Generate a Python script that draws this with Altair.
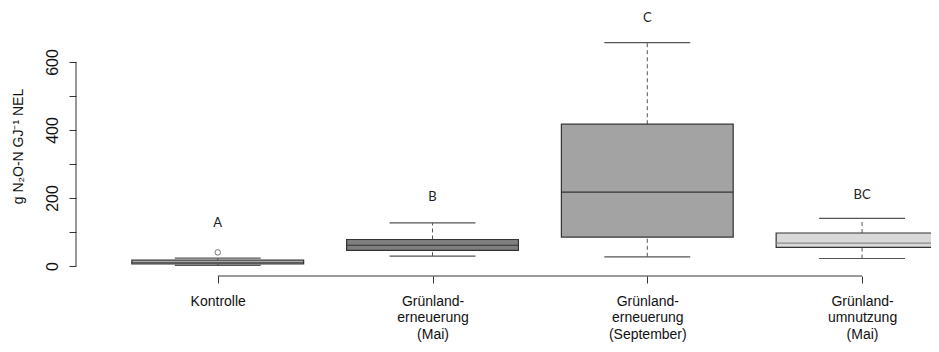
import altair as alt
import pandas as pd

# ---- data ----
categories = ["Kontrolle", "Grünland-|erneuerung|(Mai)",
              "Grünland-|erneuerung|(September)", "Grünland-|umnutzung|(Mai)"]
positions = [1, 2, 3, 4]
lower_whisker = [2, 29, 27, 22]
q1 = [6, 46, 85, 55]
median = [11, 61, 217, 67]
q3 = [17, 78, 417, 97]
upper_whisker = [23, 127, 657, 140]
fills = ["#d3d3d3", "#7f7f7f", "#a3a3a3", "#d9d9d9"]
median_colors = ["#333333", "#333333", "#333333", "#8a8a8a"]

outlier_pos = [1]
outlier_val = [40]

letters = ["A", "B", "C", "BC"]
letter_y = [126, 204, 728, 209]

y_ticks = [0, 100, 200, 300, 400, 500, 600]

df = pd.DataFrame({
    "pos": positions, "lw": lower_whisker, "q1": q1, "med": median,
    "q3": q3, "uw": upper_whisker, "fill": fills, "mcol": median_colors,
    "letter": letters, "ly": letter_y,
})
out_df = pd.DataFrame({"pos": outlier_pos, "v": outlier_val})

XDOM = [0.34, 4.321]
YDOM = [-29.4, 682.35]
xs = alt.Scale(domain=XDOM, nice=False, zero=False)
ys = alt.Scale(domain=YDOM, nice=False, zero=False)

label_js = "[" + ",".join("'" + c + "'" for c in categories) + "]"

base = alt.Chart(df).transform_calculate(
    xl="datum.pos - 0.4", xr="datum.pos + 0.4",
    cl="datum.pos - 0.2", cr="datum.pos + 0.2",
)

xaxis = alt.Axis(values=positions, domain=False, grid=False, tickSize=7,
                 tickColor="#333333", labelFontSize=14, labelColor="#111111",
                 labelFont="Liberation Sans", labelLineHeight=16.5,
                 labelPadding=11, labelBaseline="top",
                 labelExpr=f"split({label_js}[datum.value - 1], '|')",
                 title=None)
yaxis = alt.Axis(values=y_ticks, domain=False, grid=False, tickSize=7,
                 tickColor="#333333", labelFontSize=16, labelColor="#111111",
                 labelFont="Liberation Sans", labelAngle=-90,
                 labelAlign="center", labelBaseline="bottom", labelPadding=9,
                 labelExpr="datum.value % 200 == 0 ? datum.label : ''",
                 title="g N₂O-N GJ⁻¹ NEL", titleFont="Liberation Sans",
                 titleFontSize=14, titleFontWeight="normal", titleColor="#111111",
                 titleX=-58, titleY=112, titleAngle=-90, titleAlign="center",
                 titleBaseline="middle")

whisk_up = base.mark_rule(color="#555555", strokeDash=[4, 3], strokeWidth=1, clip=True).encode(
    x=alt.X("pos:Q", scale=xs, axis=xaxis),
    y=alt.Y("q3:Q", scale=ys, axis=yaxis),
    y2="uw:Q",
)
whisk_dn = base.mark_rule(color="#555555", strokeDash=[4, 3], strokeWidth=1, clip=True).encode(
    x=alt.X("pos:Q", scale=xs), y=alt.Y("lw:Q", scale=ys), y2="q1:Q",
)
cap_up = base.mark_rule(color="#555555", strokeWidth=1.2, clip=True).encode(
    x=alt.X("cl:Q", scale=xs), x2="cr:Q", y=alt.Y("uw:Q", scale=ys),
)
cap_dn = base.mark_rule(color="#555555", strokeWidth=1.2, clip=True).encode(
    x=alt.X("cl:Q", scale=xs), x2="cr:Q", y=alt.Y("lw:Q", scale=ys),
)
boxes = base.mark_rect(stroke="#333333", strokeWidth=1.2, clip=True).encode(
    x=alt.X("xl:Q", scale=xs), x2="xr:Q",
    y=alt.Y("q1:Q", scale=ys), y2="q3:Q",
    fill=alt.Fill("fill:N", scale=None),
)
meds = base.mark_rule(strokeWidth=1.2, clip=True).encode(
    x=alt.X("xl:Q", scale=xs), x2="xr:Q", y=alt.Y("med:Q", scale=ys),
    color=alt.Color("mcol:N", scale=None),
)
outl = alt.Chart(out_df).mark_point(shape="circle", size=30, color="#333333",
                                    strokeWidth=1, filled=False).encode(
    x=alt.X("pos:Q", scale=xs), y=alt.Y("v:Q", scale=ys),
)
text = base.mark_text(font="Lato", fontSize=13, color="#222222").encode(
    x=alt.X("pos:Q", scale=xs), y=alt.Y("ly:Q", scale=ys), text="letter:N",
)

# R style axis lines spanning only the tick range
xline_df = pd.DataFrame({"a": [positions[0]], "b": [positions[-1]], "y": [YDOM[0]]})
yline_df = pd.DataFrame({"x": [XDOM[0]], "a": [y_ticks[0]], "b": [y_ticks[-1]]})
xline = alt.Chart(xline_df).mark_rule(color="#333333", strokeWidth=1).encode(
    x=alt.X("a:Q", scale=xs), x2="b:Q", y=alt.Y("y:Q", scale=ys),
)
yline = alt.Chart(yline_df).mark_rule(color="#333333", strokeWidth=1).encode(
    x=alt.X("x:Q", scale=xs), y=alt.Y("a:Q", scale=ys), y2="b:Q",
)

chart = alt.layer(whisk_up, whisk_dn, cap_up, cap_dn, boxes, meds, outl, text,
                  xline, yline).properties(
    width=855, height=242,
    autosize=alt.AutoSizeParams(type="none"),
    padding={"left": 68, "top": 26, "right": 0, "bottom": 68},
).configure(background="white").configure_view(stroke=None, strokeWidth=0)

chart.save("out.html", embed_options={"renderer": "svg", "actions": False})
